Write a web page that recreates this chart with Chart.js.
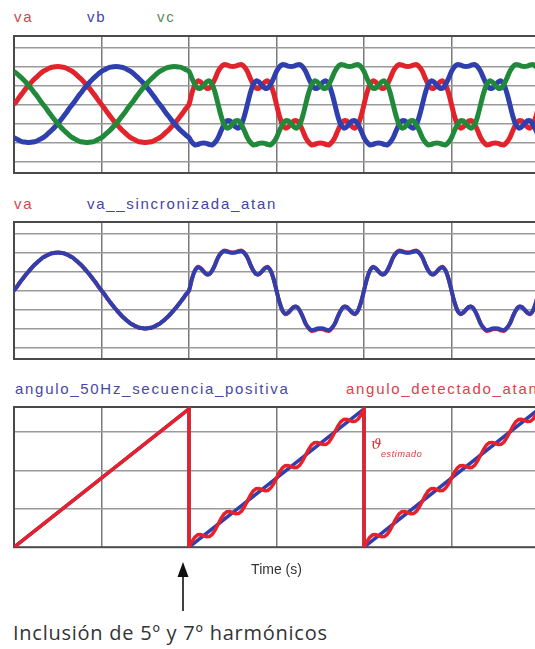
<!DOCTYPE html>
<html><head><meta charset="utf-8">
<script src="https://cdn.jsdelivr.net/npm/chart.js@4.4.1/dist/chart.umd.min.js"></script>
<style>
html,body{margin:0;padding:0;background:#fff;width:535px;height:649px;overflow:hidden;}
body{position:relative;}
canvas{position:absolute;}
.lbl{position:absolute;font-family:"Liberation Sans",Arial,sans-serif;font-size:15px;line-height:15px;letter-spacing:1.7px;white-space:nowrap;}
</style></head><body>
<div class="lbl" style="left:14px;top:9px;color:#d9434f">va</div>
<div class="lbl" style="left:87px;top:9px;color:#4444aa">vb</div>
<div class="lbl" style="left:157px;top:9px;color:#5b8c5b">vc</div>
<div class="lbl" style="left:14px;top:196px;color:#d9434f">va</div>
<div class="lbl" style="left:87px;top:196px;color:#4444aa">va__sincronizada_atan</div>
<div class="lbl" style="left:15px;top:381px;color:#4747a8">angulo_50Hz_secuencia_positiva</div>
<div class="lbl" style="left:346px;top:381px;color:#e0404c">angulo_detectado_atan</div>
<canvas id="c1" width="545" height="142" style="left:12px;top:34px"></canvas>
<canvas id="c2" width="545" height="142" style="left:12px;top:220px"></canvas>
<canvas id="c3" width="545" height="174" style="left:12px;top:405px"></canvas>
<div style="position:absolute;left:371px;top:435px;color:#d83a3a;font:italic 15px 'DejaVu Serif',serif;">&#977;</div>
<div style="position:absolute;left:381px;top:449px;color:#d83a3a;font:italic 9px 'Liberation Sans',Arial,sans-serif;letter-spacing:0.6px;">estimado</div>
<svg style="position:absolute;left:176px;top:561px" width="14" height="52"><polygon points="7,1 1.5,16 12.5,16" fill="#111"/><line x1="7" y1="14" x2="7" y2="50" stroke="#111" stroke-width="1.6"/></svg>
<div style="position:absolute;left:13px;top:619px;font-family:'Open Sans',sans-serif;font-size:20px;color:#333;letter-spacing:0.75px;white-space:nowrap;">Inclusión de 5º y 7º harmónicos</div>
<script>
// time axis (ms)
const tMs = [
0,0.33,0.67,1,1.33,1.67,2,2.33,2.67,3,3.33,3.67,4,4.33,4.67,
5,5.33,5.67,6,6.33,6.67,7,7.33,7.67,8,8.33,8.67,9,9.33,9.67,
10,10.33,10.67,11,11.33,11.67,12,12.33,12.67,13,13.33,13.67,14,14.33,14.67,
15,15.33,15.67,16,16.33,16.67,17,17.33,17.67,18,18.33,18.67,19,19.33,19.67,
20,20.33,20.67,21,21.33,21.67,22,22.33,22.67,23,23.33,23.67,24,24.33,24.67,
25,25.33,25.67,26,26.33,26.67,27,27.33,27.67,28,28.33,28.67,29,29.33,29.67,
30,30.33,30.67,31,31.33,31.67,32,32.33,32.67,33,33.33,33.67,34,34.33,34.67,
35,35.33,35.67,36,36.33,36.67,37,37.33,37.67,38,38.33,38.67,39,39.33,39.67,
40,40.33,40.67,41,41.33,41.67,42,42.33,42.67,43,43.33,43.67,44,44.33,44.67,
45,45.33,45.67,46,46.33,46.67,47,47.33,47.67,48,48.33,48.67,49,49.33,49.67,
50,50.33,50.67,51,51.33,51.67,52,52.33,52.67,53,53.33,53.67,54,54.33,54.67,
55,55.33,55.67,56,56.33,56.67,57,57.33,57.67,58,58.33,58.67,59,59.33,59.67,
60];

// phase voltages (p.u.)
const va = [
0,0.10,0.21,0.31,0.41,0.50,0.59,0.67,0.74,0.81,0.87,0.91,0.95,0.98,0.99,1.00,0.99,0.98,0.95,0.91,0.87,0.81,0.74,0.67,0.59,0.50,0.41,0.31,0.21,0.10,
0,-0.10,-0.21,-0.31,-0.41,-0.50,-0.59,-0.67,-0.74,-0.81,-0.87,-0.91,-0.95,-0.98,-0.99,-1.00,-0.99,-0.98,-0.95,-0.91,-0.87,-0.81,-0.74,-0.67,-0.59,-0.50,-0.41,-0.31,-0.21,-0.10,
0,0.30,0.52,0.62,0.59,0.50,0.43,0.43,0.53,0.69,0.87,0.99,1.05,1.04,1.01,1.00,1.01,1.04,1.05,0.99,0.87,0.69,0.53,0.43,0.43,0.50,0.59,0.62,0.52,0.30,
0,-0.30,-0.52,-0.62,-0.59,-0.50,-0.43,-0.43,-0.53,-0.69,-0.87,-0.99,-1.06,-1.05,-1.02,-1.01,-1.02,-1.05,-1.06,-0.99,-0.87,-0.69,-0.53,-0.43,-0.43,-0.50,-0.59,-0.62,-0.52,-0.30,
0,0.30,0.52,0.62,0.59,0.50,0.43,0.43,0.53,0.69,0.87,0.99,1.05,1.04,1.01,1.00,1.01,1.04,1.05,0.99,0.87,0.69,0.53,0.43,0.43,0.50,0.59,0.62,0.52,0.30,
0,-0.30,-0.52,-0.62,-0.59,-0.50,-0.43,-0.43,-0.53,-0.69,-0.87,-0.99,-1.06,-1.05,-1.02,-1.01,-1.02,-1.05,-1.06,-0.99,-0.87,-0.69,-0.53,-0.43,-0.43,-0.50,-0.59,-0.62,-0.52,-0.30,
0];

const vb = [
-0.87,-0.91,-0.95,-0.98,-0.99,-1.00,-0.99,-0.98,-0.95,-0.91,-0.87,-0.81,-0.74,-0.67,-0.59,-0.50,-0.41,-0.31,-0.21,-0.10,
0,0.10,0.21,0.31,0.41,0.50,0.59,0.67,0.74,0.81,0.87,0.91,0.95,0.98,0.99,1.00,0.99,0.98,0.95,0.91,0.87,0.81,0.74,0.67,0.59,0.50,0.41,0.31,0.21,0.10,
0,-0.10,-0.21,-0.31,-0.41,-0.50,-0.59,-0.67,-0.74,-0.81,
-0.87,-0.99,-1.06,-1.05,-1.02,-1.01,-1.02,-1.05,-1.06,-0.99,-0.87,-0.69,-0.53,-0.43,-0.43,-0.50,-0.59,-0.62,-0.52,-0.30,
0,0.30,0.52,0.62,0.59,0.50,0.43,0.43,0.53,0.69,0.87,0.99,1.05,1.04,1.01,1.00,1.01,1.04,1.05,0.99,0.87,0.69,0.53,0.43,0.43,0.50,0.59,0.62,0.52,0.30,
0,-0.30,-0.52,-0.62,-0.59,-0.50,-0.43,-0.43,-0.53,-0.69,-0.87,-0.99,-1.06,-1.05,-1.02,-1.01,-1.02,-1.05,-1.06,-0.99,-0.87,-0.69,-0.53,-0.43,-0.43,-0.50,-0.59,-0.62,-0.52,-0.30,
0,0.30,0.52,0.62,0.59,0.50,0.43,0.43,0.53,0.69,0.87,0.99,1.05,1.04,1.01,1.00,1.01,1.04,1.05,0.99,0.87,0.69,0.53,0.43,0.43,0.50,0.59,0.62,0.52,0.30,
0,-0.30,-0.52,-0.62,-0.59,-0.50,-0.43,-0.43,-0.53,-0.69,-0.87];

const vc = [
0.87,0.81,0.74,0.67,0.59,0.50,0.41,0.31,0.21,0.10,
0,-0.10,-0.21,-0.31,-0.41,-0.50,-0.59,-0.67,-0.74,-0.81,-0.87,-0.91,-0.95,-0.98,-0.99,-1.00,-0.99,-0.98,-0.95,-0.91,-0.87,-0.81,-0.74,-0.67,-0.59,-0.50,-0.41,-0.31,-0.21,-0.10,
0,0.10,0.21,0.31,0.41,0.50,0.59,0.67,0.74,0.81,0.87,0.91,0.95,0.98,0.99,1.00,0.99,0.98,0.95,0.91,
0.87,0.69,0.53,0.43,0.43,0.50,0.59,0.62,0.52,0.30,
0,-0.30,-0.52,-0.62,-0.59,-0.50,-0.43,-0.43,-0.53,-0.69,-0.87,-0.99,-1.06,-1.05,-1.02,-1.01,-1.02,-1.05,-1.06,-0.99,-0.87,-0.69,-0.53,-0.43,-0.43,-0.50,-0.59,-0.62,-0.52,-0.30,
0,0.30,0.52,0.62,0.59,0.50,0.43,0.43,0.53,0.69,0.87,0.99,1.05,1.04,1.01,1.00,1.01,1.04,1.05,0.99,0.87,0.69,0.53,0.43,0.43,0.50,0.59,0.62,0.52,0.30,
0,-0.30,-0.52,-0.62,-0.59,-0.50,-0.43,-0.43,-0.53,-0.69,-0.87,-0.99,-1.06,-1.05,-1.02,-1.01,-1.02,-1.05,-1.06,-0.99,-0.87,-0.69,-0.53,-0.43,-0.43,-0.50,-0.59,-0.62,-0.52,-0.30,
0,0.30,0.52,0.62,0.59,0.50,0.43,0.43,0.53,0.69,0.87,0.99,1.05,1.04,1.01,1.00,1.01,1.04,1.05,0.99,0.87];

// synchronized signal (p.u.)
const vaSync = [
0,0.10,0.21,0.31,0.41,0.50,0.59,0.67,0.74,0.81,0.87,0.91,0.95,0.98,0.99,1.00,0.99,0.98,0.95,0.91,0.87,0.81,0.74,0.67,0.59,0.50,0.41,0.31,0.21,0.10,
0,-0.10,-0.21,-0.31,-0.41,-0.50,-0.59,-0.67,-0.74,-0.81,-0.87,-0.91,-0.95,-0.98,-0.99,-1.00,-0.99,-0.98,-0.95,-0.91,-0.87,-0.81,-0.74,-0.67,-0.59,-0.50,-0.41,-0.31,-0.21,-0.10,
0,0.30,0.52,0.61,0.58,0.50,0.43,0.43,0.53,0.69,0.87,0.98,1.03,1.02,1.00,0.99,1.00,1.02,1.03,0.98,0.87,0.69,0.53,0.43,0.43,0.50,0.58,0.61,0.52,0.30,
0,-0.30,-0.52,-0.61,-0.58,-0.50,-0.43,-0.43,-0.53,-0.69,-0.87,-0.98,-1.04,-1.03,-1.00,-0.99,-1.00,-1.03,-1.04,-0.98,-0.87,-0.69,-0.53,-0.43,-0.43,-0.50,-0.58,-0.61,-0.52,-0.30,
0,0.30,0.52,0.61,0.58,0.50,0.43,0.43,0.53,0.69,0.87,0.98,1.03,1.02,1.00,0.99,1.00,1.02,1.03,0.98,0.87,0.69,0.53,0.43,0.43,0.50,0.58,0.61,0.52,0.30,
0,-0.30,-0.52,-0.61,-0.58,-0.50,-0.43,-0.43,-0.53,-0.69,-0.87,-0.98,-1.04,-1.03,-1.00,-0.99,-1.00,-1.03,-1.04,-0.98,-0.87,-0.69,-0.53,-0.43,-0.43,-0.50,-0.58,-0.61,-0.52,-0.30,
0];

// angles (degrees)
const tRamp = [0,20,20,40,40,60];
const angPos = [0,360,0,360,0,360];
const tDet = [
0,20,
20,20.33,20.67,21,21.33,21.67,22,22.33,22.67,23,23.33,23.67,24,24.33,24.67,
25,25.33,25.67,26,26.33,26.67,27,27.33,27.67,28,28.33,28.67,29,29.33,29.67,
30,30.33,30.67,31,31.33,31.67,32,32.33,32.67,33,33.33,33.67,34,34.33,34.67,
35,35.33,35.67,36,36.33,36.67,37,37.33,37.67,38,38.33,38.67,39,39.33,39.67,40,
40,40.33,40.67,41,41.33,41.67,42,42.33,42.67,43,43.33,43.67,44,44.33,44.67,
45,45.33,45.67,46,46.33,46.67,47,47.33,47.67,48,48.33,48.67,49,49.33,49.67,
50,50.33,50.67,51,51.33,51.67,52,52.33,52.67,53,53.33,53.67,54,54.33,54.67,
55,55.33,55.67,56,56.33,56.67,57,57.33,57.67,58,58.33,58.67,59,59.33,59.67,60];
const angDet = [
0,360,
0,14.8,26.3,32.3,32.8,30,27.2,27.7,33.7,45.2,60,74.8,86.3,92.3,92.8,
90,87.2,87.7,93.7,105.2,120,134.8,146.3,152.3,152.8,150,147.2,147.7,153.7,165.2,
180,194.8,206.3,212.3,212.8,210,207.2,207.7,213.7,225.2,240,254.8,266.3,272.3,272.8,
270,267.2,267.7,273.7,285.2,300,314.8,326.3,332.3,332.8,330,327.2,327.7,333.7,345.2,360,
0,14.8,26.3,32.3,32.8,30,27.2,27.7,33.7,45.2,60,74.8,86.3,92.3,92.8,
90,87.2,87.7,93.7,105.2,120,134.8,146.3,152.3,152.8,150,147.2,147.7,153.7,165.2,
180,194.8,206.3,212.3,212.8,210,207.2,207.7,213.7,225.2,240,254.8,266.3,272.3,272.8,
270,267.2,267.7,273.7,285.2,300,314.8,326.3,332.3,332.8,330,327.2,327.7,333.7,345.2,360];

// grid positions
const X_GRID = [0,10,20,30,40,50,60];
const Y_GRID_V = [-1.5,-1,-0.5,0,0.5,1,1.5];
const Y_GRID_ANG = [100,200,300];

const RED = '#e3232b', BLUE = '#2f3fae', GREEN = '#20893a';

const framePlugin = {id:'frame', beforeDatasetsDraw(chart){
  const {ctx, chartArea:a} = chart;
  ctx.save(); ctx.strokeStyle = '#4a4a4a'; ctx.lineWidth = 2;
  ctx.strokeRect(a.left, a.top, a.right - a.left, a.bottom - a.top);
  ctx.restore();
}};

function pts(xs, ys){ return xs.map((x,i)=>({x:x, y:ys[i]})); }

function opts(yMin, yMax, yGrid, padBottom, xTitle){
  return {
    responsive:false, animation:false, devicePixelRatio:1,
    layout:{padding:{left:2, top:2, right:18, bottom:padBottom}},
    plugins:{legend:{display:false}, tooltip:{enabled:false}},
    elements:{point:{radius:0}},
    scales:{
      x:{type:'linear', min:0, max:60,
         afterBuildTicks:(a)=>{a.ticks = X_GRID.map(v=>({value:v}));},
         ticks:{display:false},
         grid:{color:'#7a7a7a', lineWidth:1.5, drawTicks:false},
         border:{display:false},
         title: xTitle || {display:false}},
      y:{type:'linear', min:yMin, max:yMax,
         afterBuildTicks:(a)=>{a.ticks = yGrid.map(v=>({value:v}));},
         ticks:{display:false},
         grid:{color:'#9a9a9a', lineWidth:1.5, drawTicks:false},
         border:{display:false}}
    }
  };
}

// higher "order" is drawn first (underneath)
new Chart(document.getElementById('c1'), {
  type:'line',
  data:{datasets:[
    {label:'va', data:pts(tMs, va), borderColor:RED, borderWidth:5, tension:0.3, order:3},
    {label:'vb', data:pts(tMs, vb), borderColor:BLUE, borderWidth:5, tension:0.3, order:2},
    {label:'vc', data:pts(tMs, vc), borderColor:GREEN, borderWidth:5, tension:0.3, order:1}
  ]},
  options:opts(-1.8, 1.8, Y_GRID_V, 3),
  plugins:[framePlugin]
});

new Chart(document.getElementById('c2'), {
  type:'line',
  data:{datasets:[
    {label:'va', data:pts(tMs, va), borderColor:RED, borderWidth:4, tension:0.3, order:2},
    {label:'va__sincronizada_atan', data:pts(tMs, vaSync), borderColor:BLUE, borderWidth:4, tension:0.3, order:1}
  ]},
  options:opts(-1.8, 1.8, Y_GRID_V, 3),
  plugins:[framePlugin]
});

new Chart(document.getElementById('c3'), {
  type:'line',
  data:{datasets:[
    {label:'angulo_50Hz_secuencia_positiva', data:pts(tRamp, angPos), borderColor:BLUE, borderWidth:3.5, tension:0, order:2},
    {label:'angulo_detectado_atan', data:pts(tDet, angDet), borderColor:'#e8202a', borderWidth:3.5, tension:0, order:1}
  ]},
  options:opts(0, 365, Y_GRID_ANG, 0, {display:true, text:'Time (s)', color:'#333',
    font:{family:"'Liberation Sans', Arial, sans-serif", size:14}, padding:{top:15, bottom:0}}),
  plugins:[framePlugin]
});
</script>
</body></html>
